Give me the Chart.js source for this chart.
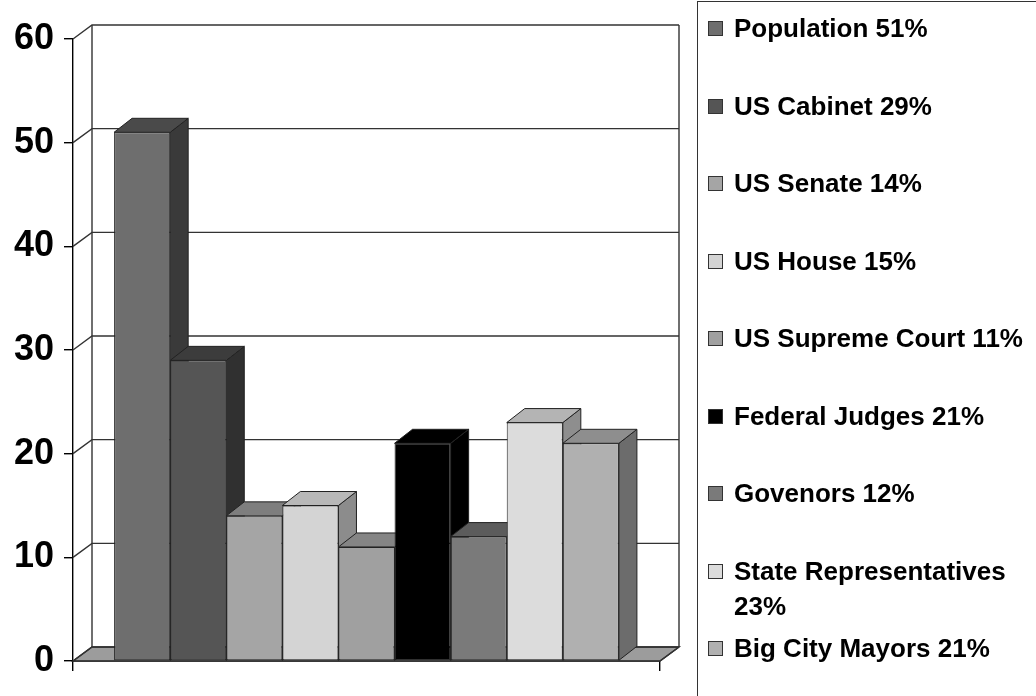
<!DOCTYPE html>
<html>
<head>
<meta charset="utf-8">
<script src="https://cdn.jsdelivr.net/npm/chart.js@4.4.0/dist/chart.umd.min.js"></script>
<style>
  html, body { margin: 0; padding: 0; background: #fff; }
  #wrap { position: relative; width: 1036px; height: 696px; overflow: hidden; }
  #chart { position: absolute; left: 0; top: 0; }
  #legend { position: absolute; left: 697px; top: 1px; width: 400px; height: 760px;
            border: 1px solid #333; font: bold 26px "Liberation Sans", Arial, sans-serif; color: #000; }
  .item { position: absolute; left: 10px; width: 330px; line-height: 35px; }
  .sw { position: absolute; left: 0; top: 10px; width: 13px; height: 13px; border: 1px solid #333; }
  .txt { margin-left: 26px; width: 300px; }
</style>
</head>
<body>
<div id="wrap">
  <canvas id="chart" width="1036" height="696"></canvas>
  <div id="legend"></div>
</div>
<script>
// data
const categories = [''];
const seriesNames = ['Population 51%', 'US Cabinet 29%', 'US Senate 14%', 'US House 15%',
  'US Supreme Court 11%', 'Federal Judges 21%', 'Govenors 12%', 'State Representatives 23%',
  'Big City Mayors 21%'];
const seriesValues = [51, 29, 14, 15, 11, 21, 12, 23, 21];
const yTicks = [0, 10, 20, 30, 40, 50, 60];

// greyscale 3d shading: front / top / side
const frontColors = ['#6e6e6e', '#555555', '#a5a5a5', '#d4d4d4', '#a0a0a0', '#000000', '#7a7a7a', '#dcdcdc', '#b0b0b0'];
const topColors   = ['#4a4a4a', '#3c3c3c', '#7e7e7e', '#b8b8b8', '#858585', '#000000', '#5c5c5c', '#b4b4b4', '#8e8e8e'];
const sideColors  = ['#3a3a3a', '#303030', '#6a6a6a', '#8c8c8c', '#6e6e6e', '#000000', '#4a4a4a', '#8e8e8e', '#6c6c6c'];

const FONT = '"Liberation Sans", Arial, sans-serif';
const WALL_DX = 19, WALL_DY = -14;   // depth of back wall
const BAR_DX = 18, BAR_DY = -14;     // depth of each column

function poly(ctx, pts, fill, stroke){
  ctx.beginPath();
  ctx.moveTo(pts[0][0], pts[0][1]);
  for (let i = 1; i < pts.length; i++) ctx.lineTo(pts[i][0], pts[i][1]);
  ctx.closePath();
  if (fill) { ctx.fillStyle = fill; ctx.fill(); }
  if (stroke) { ctx.strokeStyle = stroke; ctx.stroke(); }
}

// walls, floor and the top/side faces of the columns, drawn under the front faces
const depth3d = {
  id: 'depth3d',
  beforeDatasetsDraw(chart){
    const ctx = chart.ctx, a = chart.chartArea, ys = chart.scales.y;
    ctx.save();
    ctx.lineWidth = 1.4;
    // floor
    poly(ctx, [[a.left, a.bottom], [a.right, a.bottom], [a.right + WALL_DX, a.bottom + WALL_DY], [a.left + WALL_DX, a.bottom + WALL_DY]], '#9c9c9c', '#222');
    // gridlines on side and back wall
    ctx.strokeStyle = '#333';
    yTicks.forEach(v => {
      const py = ys.getPixelForValue(v);
      ctx.beginPath();
      ctx.moveTo(a.left, py);
      ctx.lineTo(a.left + WALL_DX, py + WALL_DY);
      ctx.lineTo(a.right + WALL_DX, py + WALL_DY);
      ctx.stroke();
    });
    ctx.beginPath();
    ctx.moveTo(a.left + WALL_DX, a.top + WALL_DY); ctx.lineTo(a.left + WALL_DX, a.bottom + WALL_DY);
    ctx.moveTo(a.right + WALL_DX, a.top + WALL_DY); ctx.lineTo(a.right + WALL_DX, a.bottom + WALL_DY);
    ctx.moveTo(a.right, a.bottom); ctx.lineTo(a.right + WALL_DX, a.bottom + WALL_DY);
    ctx.stroke();

    // column tops and sides, left to right
    ctx.lineWidth = 1;
    chart.data.datasets.forEach((ds, i) => {
      const meta = chart.getDatasetMeta(i);
      meta.data.forEach(el => {
        const p = el.getProps(['x', 'y', 'base', 'width'], true);
        const l = p.x - p.width / 2, r = p.x + p.width / 2, t = p.y, b = p.base;
        poly(ctx, [[r, t], [r, b], [r + BAR_DX, b + BAR_DY], [r + BAR_DX, t + BAR_DY]], sideColors[i], '#222');
        poly(ctx, [[l, t], [r, t], [r + BAR_DX, t + BAR_DY], [l + BAR_DX, t + BAR_DY]], topColors[i], '#222');
      });
    });
    ctx.restore();
  }
};

const datasets = seriesNames.map((name, i) => ({
  label: name,
  data: [seriesValues[i]],
  backgroundColor: frontColors[i],
  borderColor: '#222',
  borderWidth: 1,
  borderSkipped: false
}));

new Chart(document.getElementById('chart'), {
  type: 'bar',
  data: { labels: categories, datasets },
  options: {
    responsive: false,
    animation: false,
    events: [],
    layout: { padding: { left: 0, right: 376, top: 39, bottom: 0 } },
    datasets: { bar: { categoryPercentage: 0.86, barPercentage: 1 } },
    plugins: { legend: { display: false }, tooltip: { enabled: false } },
    scales: {
      x: {
        ticks: { display: false },
        grid: { drawOnChartArea: false, drawTicks: true, tickLength: 10, color: '#000', lineWidth: 1.4 },
        border: { color: '#000', width: 1.6 },
        afterFit(s){ s.height = 35; }
      },
      y: {
        min: 0, max: 60,
        afterBuildTicks(s){ s.ticks = yTicks.map(v => ({ value: v })); },
        ticks: { color: '#000', padding: 10, font: { family: FONT, size: 36, weight: 'bold' } },
        grid: { drawOnChartArea: false, tickLength: 9, color: '#000', lineWidth: 1.4 },
        border: { color: '#000', width: 1.4 },
        afterFit(s){ s.width = 73; }
      }
    }
  },
  plugins: [depth3d]
});

// legend at the right, one row per series
const legend = document.getElementById('legend');
legend.innerHTML = seriesNames.map((name, i) =>
  `<div class="item" style="top:${9 + i * 77.5}px"><span class="sw" style="background:${frontColors[i]}"></span><div class="txt">${name}</div></div>`
).join('');
</script>
</body>
</html>
